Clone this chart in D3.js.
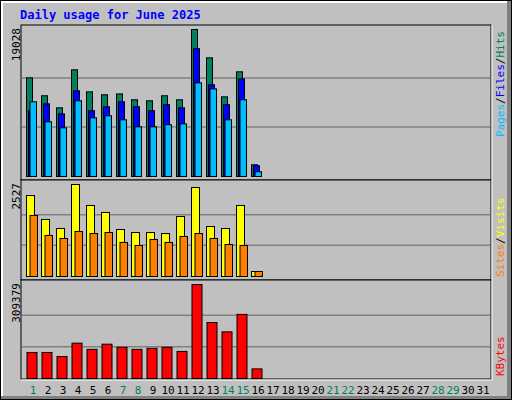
<!DOCTYPE html>
<html>
<head>
<meta charset="utf-8">
<script src="https://cdn.jsdelivr.net/npm/d3@7"></script>
<style>
  body { margin: 0; background: #fff; }
  text { font-family: "DejaVu Sans Mono", monospace; }
</style>
</head>
<body>
<div id="chart"></div>
<script>
const days = d3.range(1, 32)
const weekend = [1, 7, 8, 14, 15, 21, 22, 28, 29]

const hits = [12770, 10450, 8890, 13810, 10960, 10580, 10690, 9930, 9800, 10450, 9930, 19028, 15360, 10310, 13550, 1520]
const files = [8510, 9400, 8110, 11090, 8510, 9020, 9670, 9020, 8510, 9290, 8890, 16540, 11870, 9290, 12630, 1390]
const pages = [9670, 7080, 6300, 9800, 7590, 7860, 7340, 6430, 6430, 6700, 6810, 12120, 11340, 7340, 9930, 610]
const visits = [2224, 1567, 1319, 2527, 1951, 1759, 1291, 1208, 1208, 1180, 1648, 2444, 1372, 1319, 1951, 137]
const sites = [1675, 1127, 1044, 1236, 1180, 1208, 935, 852, 1016, 935, 1099, 1180, 1044, 879, 852, 137]
const kbytes = [85700, 85700, 72400, 116300, 95900, 112900, 102700, 95900, 99300, 102700, 89100, 309379, 184100, 153500, 211000, 31600]

const svg = d3.select('#chart').append('svg').attr('width', 512).attr('height', 400)

// frame
svg.append('rect').attr('x', 0).attr('y', 0).attr('width', 512).attr('height', 400).attr('fill', '#000')
svg.append('rect').attr('x', 1).attr('y', 1).attr('width', 510).attr('height', 398).attr('fill', '#808080')
svg.append('rect').attr('x', 1).attr('y', 1).attr('width', 506).attr('height', 395).attr('fill', '#fff')
svg.append('rect').attr('x', 3).attr('y', 3).attr('width', 504).attr('height', 393).attr('fill', '#c0c0c0')

svg.append('text').attr('x', 20).attr('y', 19).attr('fill', '#0000ff')
    .attr('font-size', 12).attr('font-weight', 'bold').text('Daily usage for June 2025')

const left = 21, right = 491
// x: band position per day, step 15
const x = d3.scaleLinear().domain([1, 31]).range([26, 476])

const panels = [
    { top: 25, bottom: 180, base: 176, max: 19028, h: 147 },
    { top: 180, bottom: 280, base: 276, max: 2527, h: 92 },
    { top: 280, bottom: 379, base: 378, max: 309379, h: 94 }
]

panels.forEach(p => {
    svg.append('rect').attr('x', left).attr('y', p.top).attr('width', right - left).attr('height', p.bottom - p.top)
        .attr('fill', '#c0c0c0').attr('stroke', '#000').attr('stroke-width', 1)
    p.y = d3.scaleLinear().domain([0, p.max]).range([p.base, p.base - p.h])
    ;[1, 2].forEach(k => {
        svg.append('line').attr('x1', left + 1).attr('x2', right - 1)
            .attr('y1', p.y(p.max * k / 3)).attr('y2', p.y(p.max * k / 3))
            .attr('stroke', '#808080').attr('stroke-width', 1.5)
    })
    svg.append('text').attr('transform', `translate(20,${p.top + 3}) rotate(-90)`)
        .attr('text-anchor', 'end').attr('font-size', 11).attr('fill', '#000').text(p.max)
})
// white highlight lines to right/bottom of panels
svg.append('line').attr('x1', right + 1).attr('x2', right + 1).attr('y1', 25).attr('y2', 380).attr('stroke', '#fff')
svg.append('line').attr('x1', left).attr('x2', right + 1).attr('y1', 380).attr('y2', 380).attr('stroke', '#fff')

function bars(values, p, dx, w, color) {
    svg.append('g').selectAll('rect').data(values).join('rect')
        .attr('x', (d, i) => x(i + 1) + dx + 0.5)
        .attr('y', d => p.y(d) + 0.5)
        .attr('width', w)
        .attr('height', d => p.base - p.y(d))
        .attr('fill', color).attr('stroke', '#000').attr('stroke-width', 1)
}

bars(hits, panels[0], 0, 6, '#00805c')
bars(files, panels[0], 2, 6, '#0000ff')
bars(pages, panels[0], 3.5, 6.5, '#00bfff')
bars(visits, panels[1], 0, 8, '#ffff00')
bars(sites, panels[1], 3.5, 7.5, '#ff8000')
bars(kbytes, panels[2], 0.5, 10, '#ff0000')

svg.append('g').selectAll('text').data(days).join('text')
    .attr('x', d => x(d) + 7).attr('y', 394).attr('text-anchor', 'middle')
    .attr('font-size', 11).attr('fill', d => weekend.includes(d) ? '#00805c' : '#000')
    .text(d => d)

// right-side legends
function legend(parts, yStart) {
    const t = svg.append('text').attr('transform', `translate(504,${yStart}) rotate(-90)`)
        .attr('font-size', 11)
    parts.forEach(([s, c]) => t.append('tspan').attr('fill', c).text(s))
}
legend([['Pages', '#00bfff'], ['/', '#000'], ['Files', '#0000ff'], ['/', '#000'], ['Hits', '#00805c']], 137)
legend([['Sites', '#ff8000'], ['/', '#000'], ['Visits', '#ffff00']], 277)
legend([['KBytes', '#ff0000']], 376)
</script>
</body>
</html>
